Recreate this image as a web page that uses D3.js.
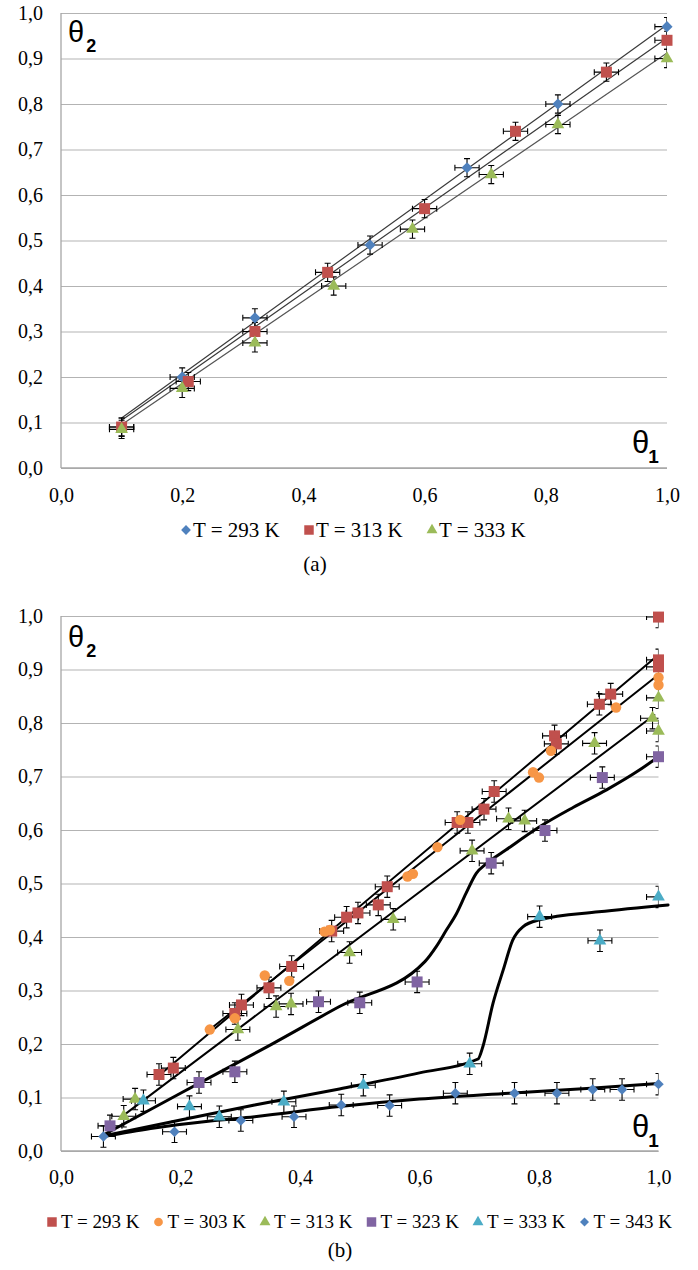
<!DOCTYPE html>
<html>
<head>
<meta charset="utf-8">
<script src="https://cdn.jsdelivr.net/npm/d3@7"></script>
<style>
  body { margin: 0; background: #fff; }
  svg { display: block; }
</style>
</head>
<body>
<svg id="fig" width="698" height="1270"></svg>
<script>
// ---------- Panel (a): theta2 vs theta1 at three temperatures ----------
const labelsA = ["T = 293 K", "T = 313 K", "T = 333 K"];
const a293 = [[0.10, 0.09], [0.20, 0.20], [0.32, 0.33], [0.51, 0.49], [0.67, 0.66], [0.82, 0.80], [1.00, 0.97]];
const a313 = [[0.10, 0.09], [0.21, 0.19], [0.32, 0.30], [0.44, 0.43], [0.60, 0.57], [0.75, 0.74], [0.90, 0.87], [1.00, 0.94]];
const a333 = [[0.10, 0.085], [0.20, 0.175], [0.32, 0.275], [0.45, 0.40], [0.58, 0.525], [0.71, 0.645], [0.82, 0.755], [1.00, 0.90]];
// linear trend lines (end points)
const fitA293 = [[0.10, 0.110], [1.00, 0.974]];
const fitA313 = [[0.10, 0.105], [1.00, 0.945]];
const fitA333 = [[0.10, 0.095], [1.00, 0.912]];

// ---------- Panel (b): six temperatures ----------
const labelsB = ["T = 293 K", "T = 303 K", "T = 313 K", "T = 323 K", "T = 333 K", "T = 343 K"];
const b293 = [[0.164, 0.143], [0.188, 0.155], [0.291, 0.257], [0.302, 0.273], [0.348, 0.305], [0.386, 0.345],
              [0.453, 0.411], [0.478, 0.437], [0.497, 0.445], [0.531, 0.460], [0.546, 0.494], [0.663, 0.614],
              [0.681, 0.614], [0.708, 0.639], [0.725, 0.672], [0.826, 0.776], [0.829, 0.761], [0.901, 0.835],
              [0.920, 0.854], [1.00, 0.918], [1.00, 0.905], [1.00, 0.998]];
const b303 = [[0.249, 0.227], [0.291, 0.248], [0.341, 0.328], [0.382, 0.318], [0.441, 0.410], [0.450, 0.413],
              [0.580, 0.513], [0.589, 0.518], [0.630, 0.568], [0.668, 0.619], [0.790, 0.708], [0.800, 0.698],
              [0.820, 0.748], [0.929, 0.829], [1.00, 0.885], [1.00, 0.871]];
const b313 = [[0.105, 0.065], [0.124, 0.097], [0.296, 0.227], [0.360, 0.270], [0.385, 0.275], [0.483, 0.371],
              [0.556, 0.433], [0.688, 0.561], [0.749, 0.621], [0.776, 0.617], [0.893, 0.762], [1.00, 0.847],
              [0.990, 0.809], [1.00, 0.785]];
const b323 = [[0.082, 0.047], [0.231, 0.128], [0.291, 0.148], [0.431, 0.279], [0.500, 0.277], [0.596, 0.316],
              [0.720, 0.538], [0.810, 0.599], [0.906, 0.698], [1.00, 0.737]];
const b333 = [[0.138, 0.094], [0.215, 0.083], [0.265, 0.064], [0.373, 0.092], [0.506, 0.123], [0.684, 0.163],
              [0.801, 0.438], [0.902, 0.393], [1.00, 0.475]];
const b343 = [[0.071, 0.027], [0.190, 0.036], [0.301, 0.057], [0.390, 0.064], [0.469, 0.086], [0.550, 0.085],
              [0.660, 0.108], [0.759, 0.108], [0.830, 0.108], [0.890, 0.115], [0.939, 0.115], [1.00, 0.125]];
// fitted lines and model curves
const fitB293 = [[0.163, 0.140], [0.996, 0.924]];
const fitB303 = [[0.249, 0.227], [0.996, 0.887]];
const fitB313 = [[0.099, 0.062], [0.993, 0.815]];
const curveB323 = [[0.071, 0.030], [0.20, 0.108], [0.35, 0.198], [0.466, 0.270], [0.609, 0.354], [0.628, 0.382],
                   [0.645, 0.413], [0.662, 0.444], [0.678, 0.482], [0.695, 0.519], [0.712, 0.537], [0.745, 0.563],
                   [0.801, 0.606], [0.857, 0.642], [0.913, 0.675], [0.968, 0.712], [1.00, 0.737]];
const curveB333 = [[0.071, 0.028], [0.20, 0.058], [0.324, 0.086], [0.466, 0.116], [0.60, 0.146], [0.698, 0.172],
                   [0.706, 0.195], [0.723, 0.276], [0.740, 0.338], [0.756, 0.394], [0.773, 0.419], [0.801, 0.432],
                   [0.90, 0.447], [1.016, 0.460]];
const curveB343 = [[0.071, 0.027], [0.15, 0.042], [0.25, 0.056], [0.324, 0.064], [0.466, 0.083], [0.60, 0.097],
                   [0.75, 0.108], [0.88, 0.117], [1.00, 0.126]];

// shared axis ticks and measurement uncertainty
const xTicks = [0, 0.2, 0.4, 0.6, 0.8, 1.0];
const yTicks = [0, 0.1, 0.2, 0.3, 0.4, 0.5, 0.6, 0.7, 0.8, 0.9, 1.0];
const errX = 0.02, errY = 0.02;

const C = { blue: "#4F81BD", red: "#C0504D", green: "#9BBB59", purple: "#8064A2", aqua: "#4BACC6", orange: "#F79646" };
const SERIF = "Liberation Serif";
const SANS = "Liberation Sans";
const fmt = d3.formatLocale({ decimal: ",", thousands: " ", grouping: [3], currency: ["", ""] }).format(".1f");

const svg = d3.select("#fig");
svg.append("rect").attr("width", 698).attr("height", 1270).attr("fill", "#fff");

function symbolPath(shape, size) {
  if (shape === "diamond") return { d: d3.symbol(d3.symbolSquare, size)(), rot: 45 };
  if (shape === "square") return { d: d3.symbol(d3.symbolSquare, size)(), rot: 0 };
  if (shape === "triangle") return { d: d3.symbol(d3.symbolTriangle, size)(), rot: 0 };
  return { d: d3.symbol(d3.symbolCircle, size)(), rot: 0 };
}

function drawPanel(p) {
  const g = svg.append("g");
  const x = d3.scaleLinear().domain([0, 1]).range([p.left, p.right]);
  const y = d3.scaleLinear().domain([0, 1]).range([p.bottom, p.top]);

  // gridlines + y labels
  const ya = g.append("g").attr("transform", `translate(${p.left},0)`)
    .call(d3.axisLeft(y).tickValues(yTicks).tickSize(-(p.right - p.left)).tickPadding(18).tickFormat(fmt))
    .attr("font-family", SERIF).attr("font-size", 20);
  ya.select(".domain").remove();
  ya.selectAll(".tick line").attr("stroke", "#b3b3b3").attr("stroke-width", 1.2);
  ya.selectAll(".tick text").attr("font-family", SERIF).attr("fill", "#000");

  const xa = g.append("g").attr("transform", `translate(0,${p.bottom})`)
    .call(d3.axisBottom(x).tickValues(xTicks).tickSize(0).tickPadding(p.xPad).tickFormat(fmt))
    .attr("font-family", SERIF).attr("font-size", 20);
  xa.select(".domain").remove();
  xa.selectAll(".tick text").attr("font-family", SERIF).attr("fill", "#000");

  // axis lines
  g.append("line").attr("x1", p.left).attr("x2", p.left).attr("y1", y(0)).attr("y2", y(1))
    .attr("stroke", "#a6a6a6").attr("stroke-width", 1.3);
  g.append("line").attr("x1", p.left).attr("x2", p.right).attr("y1", y(0)).attr("y2", y(0))
    .attr("stroke", "#a6a6a6").attr("stroke-width", 1.3);

  // clip for error bars
  const clipId = "clip" + p.id;
  svg.append("clipPath").attr("id", clipId).append("rect")
    .attr("x", p.left).attr("y", p.top).attr("width", p.right - p.left).attr("height", p.bottom - p.top);

  // fitted lines / curves
  const line = d3.line().x(d => x(d[0])).y(d => y(d[1]));
  p.fits.forEach(f => {
    g.append("path").datum(f.pts)
      .attr("d", line.curve(f.smooth ? d3.curveMonotoneX : d3.curveLinear))
      .attr("fill", "none").attr("stroke", f.color).attr("stroke-width", f.w)
      .attr("stroke-linejoin", "round").attr("stroke-linecap", "round");
  });

  // error bars
  const eb = g.append("g").attr("clip-path", `url(#${clipId})`)
    .attr("stroke", "#000").attr("stroke-width", 1.1).attr("fill", "none");
  const cap = 3;
  p.series.forEach(s => {
    if (!s.err) return;
    s.pts.forEach(d => {
      const cx = x(d[0]), cy = y(d[1]);
      const xl = x(d[0] - errX), xr = x(d[0] + errX), yt = y(d[1] + errY), yb = y(d[1] - errY);
      eb.append("path").attr("d",
        `M${xl},${cy}H${xr}M${xl},${cy - cap}V${cy + cap}M${xr},${cy - cap}V${cy + cap}` +
        `M${cx},${yt}V${yb}M${cx - cap},${yt}H${cx + cap}M${cx - cap},${yb}H${cx + cap}`);
    });
  });

  // markers
  p.series.forEach(s => {
    const sp = symbolPath(s.shape, s.size);
    g.append("g").selectAll("path").data(s.pts).join("path")
      .attr("d", sp.d)
      .attr("transform", d => `translate(${x(d[0])},${y(d[1])}) rotate(${sp.rot})`)
      .attr("fill", s.color);
  });

  // legend
  const lg = g.append("g");
  p.series.forEach((s, i) => {
    const lx = p.legX + i * p.legStep;
    const sp = symbolPath(s.shape, s.legSize);
    lg.append("path").attr("d", sp.d)
      .attr("transform", `translate(${lx},${p.legY}) rotate(${sp.rot})`).attr("fill", s.color);
    lg.append("text").attr("x", lx + p.legGap).attr("y", p.legY).attr("dy", "0.34em")
      .attr("font-family", SERIF).attr("font-size", p.legFont).attr("fill", "#000")
      .text(s.name);
  });

  // axis symbols
  const t2 = g.append("text").attr("x", p.left + 7).attr("y", p.th2Y)
    .attr("font-family", SANS).attr("font-size", 29).attr("fill", "#000");
  t2.append("tspan").text("θ");
  t2.append("tspan").attr("font-size", 18).attr("font-weight", "bold").attr("dy", 10).attr("dx", 2).text("2");

  const t1 = g.append("text").attr("x", p.th1X).attr("y", p.th1Y)
    .attr("font-family", SANS).attr("font-size", 31).attr("fill", "#000");
  t1.append("tspan").text("θ");
  t1.append("tspan").attr("font-size", 19).attr("font-weight", "bold").attr("dy", 10).attr("dx", -1).text("1");

  // caption
  g.append("text").attr("x", p.capX).attr("y", p.capY).attr("text-anchor", "middle")
    .attr("font-family", SERIF).attr("font-size", 21).attr("fill", "#000").text(p.caption);
}

drawPanel({
  id: "A", left: 61, right: 667, top: 13, bottom: 468, xPad: 20,
  series: [
    { name: labelsA[0], pts: a293, color: C.blue, shape: "diamond", size: 62, legSize: 48, err: true },
    { name: labelsA[1], pts: a313, color: C.red, shape: "square", size: 121, legSize: 90, err: true },
    { name: labelsA[2], pts: a333, color: C.green, shape: "triangle", size: 70, legSize: 52, err: true }
  ],
  fits: [
    { pts: fitA293, color: "#3a3a3a", w: 1.2 },
    { pts: fitA313, color: "#3a3a3a", w: 1.2 },
    { pts: fitA333, color: "#555", w: 1.2 }
  ],
  legX: 186, legStep: 123, legGap: 7, legY: 530, legFont: 21,
  th2Y: 42, th1X: 632, th1Y: 453,
  caption: "(a)", capX: 315, capY: 571
});

drawPanel({
  id: "B", left: 61, right: 658.5, top: 616, bottom: 1151, xPad: 19,
  series: [
    { name: labelsB[0], pts: b293, color: C.red, shape: "square", size: 121, legSize: 90, err: true },
    { name: labelsB[1], pts: b303, color: C.orange, shape: "circle", size: 85, legSize: 60, err: false },
    { name: labelsB[2], pts: b313, color: C.green, shape: "triangle", size: 70, legSize: 52, err: true },
    { name: labelsB[3], pts: b323, color: C.purple, shape: "square", size: 121, legSize: 90, err: true },
    { name: labelsB[4], pts: b333, color: C.aqua, shape: "triangle", size: 70, legSize: 52, err: true },
    { name: labelsB[5], pts: b343, color: C.blue, shape: "diamond", size: 55, legSize: 40, err: true }
  ],
  fits: [
    { pts: fitB293, color: "#000", w: 2 },
    { pts: fitB303, color: "#000", w: 2 },
    { pts: fitB313, color: "#000", w: 2 },
    { pts: curveB323, color: "#000", w: 3, smooth: true },
    { pts: curveB333, color: "#000", w: 3, smooth: true },
    { pts: curveB343, color: "#000", w: 3, smooth: true }
  ],
  legX: 52, legStep: 106.5, legGap: 9, legY: 1222, legFont: 19,
  th2Y: 647, th1X: 632, th1Y: 1137,
  caption: "(b)", capX: 340, capY: 1257
});
</script>
</body>
</html>
